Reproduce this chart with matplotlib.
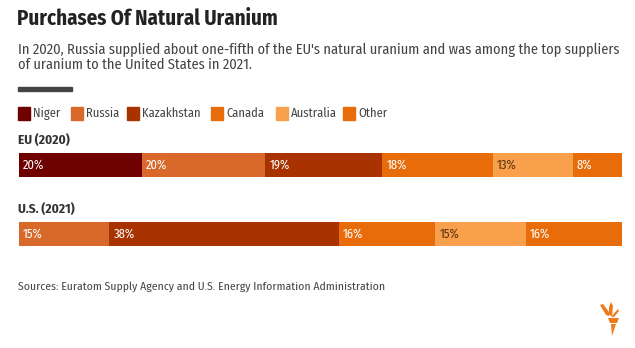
import matplotlib
matplotlib.use("Agg")
import matplotlib.pyplot as plt
from matplotlib.patches import Rectangle, Polygon

countries = ["Niger", "Russia", "Kazakhstan", "Canada", "Australia", "Other"]
colors = ["#6e0000", "#d8692a", "#a83300", "#e96c0b", "#f8a04b", "#e96c0b"]
label_colors = ["white", "white", "white", "white", "#5a3010", "white"]

eu_names = ["Niger", "Russia", "Kazakhstan", "Canada", "Australia", "Other"]
eu_vals = [20, 20, 19, 18, 13, 8]
us_names = ["Russia", "Kazakhstan", "Canada", "Australia", "Other"]
us_vals = [15, 38, 16, 15, 16]

plt.rcParams["font.family"] = ["Fira Sans Condensed", "DejaVu Sans"]

W, H = 635, 348
fig = plt.figure(figsize=(W / 100, H / 100), dpi=100)


def px(x, y):
    return x / W, 1 - y / H


def ftext(x, y, s, **kw):
    fx, fy = px(x, y)
    fig.text(fx, fy, s, **kw)


ftext(17, 19, "Purchases Of Natural Uranium", fontsize=15, fontweight="bold",
      color="#222222", va="center")
ftext(18, 50, "In 2020, Russia supplied about one-fifth of the EU's natural uranium "
      "and was among the top suppliers", fontsize=10.4, color="#444444", va="center")
ftext(18, 65, "of uranium to the United States in 2021.", fontsize=10.4,
      color="#444444", va="center")

# short dark rule under the intro
fig.patches.append(Rectangle(px(18, 91), 54 / W, 4 / H, transform=fig.transFigure,
                             color="#444444"))

# legend row
legend_x = [18, 71, 127, 211, 276, 343]
for name, c, lx in zip(countries, colors, legend_x):
    fig.patches.append(Rectangle(px(lx, 120), 12 / W, 13 / H, transform=fig.transFigure,
                                 color=c))
    ftext(lx + 15, 113, name, fontsize=9, color="#444444", va="center")


def stacked(top, names, vals, title):
    ftext(18, top - 13, title, fontsize=9.5, fontweight="bold", color="#333333",
          va="center")
    ax = fig.add_axes([19 / W, 1 - (top + 24) / H, 603 / W, 24 / H])
    total = sum(vals)
    left = 0
    for n, v in zip(names, vals):
        i = countries.index(n)
        ax.barh(0, v, left=left, height=1, color=colors[i], linewidth=0)
        ax.text(left + total * 0.007, 0, f"{v}%", color=label_colors[i],
                fontsize=9, va="center", ha="left")
        left += v
    ax.set_xlim(0, total)
    ax.set_ylim(-0.5, 0.5)
    ax.axis("off")


stacked(153, eu_names, eu_vals, "EU (2020)")
stacked(222, us_names, us_vals, "U.S. (2021)")

ftext(18, 287, "Sources: Euratom Supply Agency and U.S. Energy Information Administration",
      fontsize=8.4, color="#444444", va="center")

# small torch logo
logo = "#ef7a1a"
shapes = [
    [(600, 305), (603, 304), (609, 312), (609, 316), (606, 315)],
    [(611, 302), (613, 306), (612, 316), (609, 315), (609, 307)],
    [(618, 309), (619, 311), (614, 317), (611, 317)],
    [(608, 318), (619, 318), (617, 323), (610, 323)],
    [(611, 324), (616, 324), (612, 336)],
]
for pts in shapes:
    fig.patches.append(Polygon([px(x, y) for x, y in pts], closed=True,
                               transform=fig.transFigure, color=logo, linewidth=0))

fig.savefig("out.png", dpi=100, facecolor="white")
